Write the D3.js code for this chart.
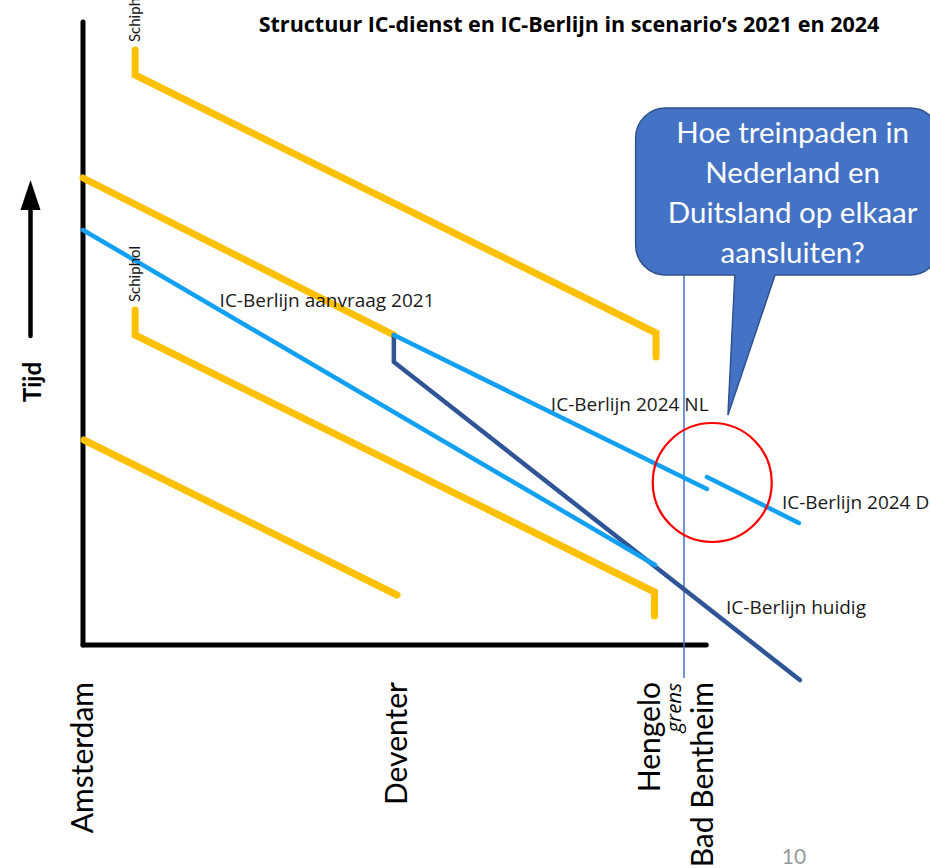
<!DOCTYPE html>
<html><head><meta charset="utf-8">
<script src="https://cdn.jsdelivr.net/npm/d3@7"></script>
<style>html,body{margin:0;padding:0;background:#fff;} svg{display:block;}</style>
</head><body>
<svg id="chart" width="930" height="868"></svg>
<script>
// ---- data (x = afstand, t = tijd; arbitrary units) ----
const stations = ["Amsterdam", "Deventer", "Hengelo", "Bad Bentheim"];
const stationKm = [0, 100, 180.5, 197.5];
const grensKm = 191.4;
const grensT = [370, -33];

const yellow1 = [[16.6, 595], [16.6, 570], [182.5, 312], [182.5, 288]];
const yellow2 = [[0, 467], [99, 310]];
const yellow3 = [[16.6, 335], [16.6, 310], [182, 53], [182, 29]];
const yellow4 = [[0.3, 205], [100, 50]];
const blue2021 = [[0, 415], [182.2, 80]];
const blue2024NL = [[99, 310], [198.7, 156]];
const blue2024D = [[198.7, 168], [228, 122]];
const darkHuidig = [[99, 310], [99, 283], [228.3, -35]];

const lineLabels = [
  {text: "IC-Berlijn aanvraag 2021", km: 43.5, t: 338},
  {text: "IC-Berlijn 2024 NL", km: 149, t: 234},
  {text: "IC-Berlijn 2024 D", km: 222.6, t: 136},
  {text: "IC-Berlijn huidig", km: 204.8, t: 31}
];
const schipholLabels = [{km: 16.6, t: 603}, {km: 16.6, t: 343}];
const title = "Structuur IC-dienst en IC-Berlijn in scenario’s 2021 en 2024";
const calloutText = ["Hoe treinpaden in", "Nederland en", "Duitsland op elkaar", "aansluiten?"];
const circle = {km: 200.4, t: 162.5, r: 59.5};

// ---- scales ----
const x = d3.scaleLinear().domain([0, 100]).range([83, 397]);
const y = d3.scaleLinear().domain([0, 625]).range([645, 20]);
const svg = d3.select("#chart");
const line = d3.line().x(d => x(d[0])).y(d => y(d[1]));

const YEL = "#FFC000", LB = "#12A0F2", DB = "#2F5597";
const FONT = "Lato, 'Open Sans', sans-serif";
const FONT2 = "'Open Sans', Lato, sans-serif";

// axes
svg.append("line").attr("x1", x(0)).attr("x2", x(0)).attr("y1", y(623)).attr("y2", y(0))
  .attr("stroke", "#000").attr("stroke-width", 5).attr("stroke-linecap", "round");
svg.append("line").attr("x1", x(0)).attr("x2", x(198.5)).attr("y1", y(0)).attr("y2", y(0))
  .attr("stroke", "#000").attr("stroke-width", 5).attr("stroke-linecap", "round");

// grens line
svg.append("line").attr("x1", x(grensKm)).attr("x2", x(grensKm)).attr("y1", y(grensT[0])).attr("y2", y(grensT[1]))
  .attr("stroke", "#4472C4").attr("stroke-width", 1.5);

// series
const series = [
  {d: yellow1, c: YEL, w: 7},
  {d: yellow2, c: YEL, w: 7},
  {d: yellow3, c: YEL, w: 7},
  {d: yellow4, c: YEL, w: 7},
  {d: darkHuidig, c: DB, w: 4.5},
  {d: blue2021, c: LB, w: 4.5},
  {d: blue2024NL, c: LB, w: 4.5},
  {d: blue2024D, c: LB, w: 4.5}
];
svg.selectAll("path.series").data(series).join("path").attr("class", "series")
  .attr("d", s => line(s.d)).attr("fill", "none").attr("stroke", s => s.c)
  .attr("stroke-width", s => s.w).attr("stroke-linecap", "round").attr("stroke-linejoin", "miter");

// red circle
svg.append("circle").attr("cx", x(circle.km)).attr("cy", y(circle.t)).attr("r", circle.r)
  .attr("fill", "none").attr("stroke", "#FF0000").attr("stroke-width", 2.2);

// callout
const cL = x(176), cR = x(273), cT = y(537), cB = y(370), rad = 30;
const pA = x(207.6), pB = x(220.4), tipX = x(205.4), tipY = y(230);
const cp = d3.path();
cp.moveTo(cL + rad, cT);
cp.lineTo(cR - rad, cT); cp.arcTo(cR, cT, cR, cT + rad, rad);
cp.lineTo(cR, cB - rad); cp.arcTo(cR, cB, cR - rad, cB, rad);
cp.lineTo(pB, cB); cp.lineTo(tipX, tipY); cp.lineTo(pA, cB);
cp.lineTo(cL + rad, cB); cp.arcTo(cL, cB, cL, cB - rad, rad);
cp.lineTo(cL, cT + rad); cp.arcTo(cL, cT, cL + rad, cT, rad);
cp.closePath();
svg.append("path").attr("d", cp.toString()).attr("fill", "#4472C4").attr("stroke", "#2F528F").attr("stroke-width", 1.5);
svg.selectAll("text.callout").data(calloutText).join("text").attr("class", "callout")
  .attr("x", x(226)).attr("y", (d, i) => y(502) + i * 40)
  .attr("text-anchor", "middle").attr("font-family", FONT).attr("font-size", 29.5)
  .attr("fill", "#fff").text(d => d);

// title
svg.append("text").attr("x", 569).attr("y", 32).attr("text-anchor", "middle")
  .attr("font-family", FONT2).attr("font-weight", "bold").attr("font-size", 21.5).attr("fill", "#000").text(title);

// line labels
svg.selectAll("text.lbl").data(lineLabels).join("text").attr("class", "lbl")
  .attr("x", d => x(d.km)).attr("y", d => y(d.t))
  .attr("font-family", FONT2).attr("font-size", 19).attr("fill", "#1a1a1a").text(d => d.text);

// Schiphol labels
svg.selectAll("text.schip").data(schipholLabels).join("text").attr("class", "schip")
  .attr("transform", d => `translate(${x(d.km) + 5},${y(d.t)}) rotate(-90)`)
  .attr("font-family", FONT).attr("font-size", 15).attr("fill", "#1a1a1a").text("Schiphol");

// station labels
svg.selectAll("text.stn").data(stations).join("text").attr("class", "stn")
  .attr("transform", (d, i) => `translate(${x(stationKm[i]) + 10},${y(0) + 37}) rotate(-90)`)
  .attr("text-anchor", "end").attr("font-family", FONT).attr("font-size", 30).attr("fill", "#000").text(d => d);
svg.append("text").attr("transform", `translate(${x(grensKm) - 3},${y(0) + 38}) rotate(-90)`)
  .attr("text-anchor", "end").attr("font-family", FONT2).attr("font-style", "italic").attr("font-size", 20.5)
  .attr("fill", "#000").text("grens");

// Tijd axis title + arrow
svg.append("text").attr("transform", `translate(41,382) rotate(-90)`).attr("text-anchor", "middle")
  .attr("font-family", FONT).attr("font-weight", "bold").attr("font-size", 24).attr("fill", "#000").text("Tijd");
svg.append("line").attr("x1", 30.5).attr("x2", 30.5).attr("y1", 336).attr("y2", 205)
  .attr("stroke", "#000").attr("stroke-width", 4.5).attr("stroke-linecap", "round");
svg.append("path").attr("d", "M30.5,180 L40.5,210 L20.5,210 Z").attr("fill", "#000");

// page number
svg.append("text").attr("x", 794).attr("y", 864).attr("text-anchor", "middle")
  .attr("font-family", FONT).attr("font-size", 21).attr("fill", "#999").text("10");
</script>
</body></html>
